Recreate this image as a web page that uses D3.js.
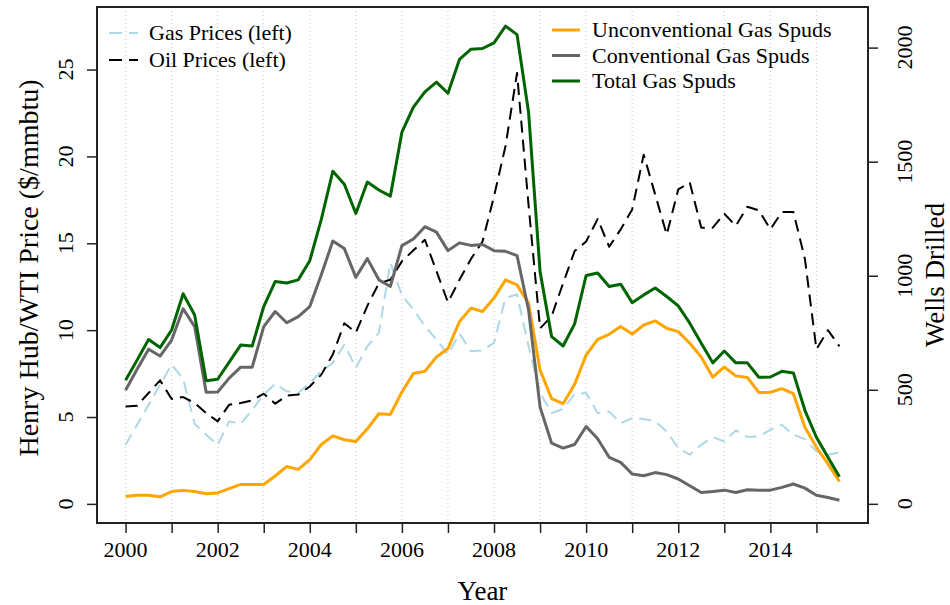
<!DOCTYPE html>
<html>
<head>
<meta charset="utf-8">
<script src="https://cdn.jsdelivr.net/npm/d3@7"></script>
<style>
  body { margin: 0; background: #fff; }
  svg { display: block; font-family: "Liberation Serif", "Times New Roman", serif; }
</style>
</head>
<body>
<svg id="chart" width="950" height="605"></svg>
<script>
// quarterly, 2000 Q1 .. 2015 Q3
var startYear = 2000,
    nQuarters = 63;

// Henry Hub gas price ($/mmbtu)
var gasPrices = [3.40, 4.56, 5.70, 6.86, 8.02, 7.20, 4.61, 3.98, 3.40, 4.75, 4.61, 5.42, 6.29,
    6.92, 6.48, 6.38, 6.96, 7.63, 8.11, 9.17, 7.83, 9.07, 9.84, 13.88, 12.00, 11.19, 10.22,
    9.46, 8.59, 9.80, 8.78, 8.84, 9.27, 11.86, 12.05, 9.07, 6.40, 5.23, 5.46, 6.33, 6.38,
    5.23, 5.32, 4.65, 4.94, 4.88, 4.75, 4.17, 3.21, 2.83, 3.40, 3.85, 3.59, 4.23, 3.85,
    3.88, 4.27, 4.56, 3.98, 3.73, 3.02, 2.83, 2.96];

// WTI oil price ($/mmbtu)
var oilPrices = [5.61, 5.65, 6.38, 7.11, 6.04, 6.15, 5.81, 5.23, 4.75, 5.71, 5.81, 5.96, 6.34,
    5.77, 6.23, 6.29, 6.76, 7.44, 8.60, 10.40, 9.86, 11.40, 12.70, 12.90, 13.96, 14.60, 15.20,
    13.40, 11.60, 12.90, 14.10, 15.10, 17.70, 20.60, 24.80, 17.20, 10.10, 10.80, 12.70, 14.55,
    15.10, 16.40, 14.80, 15.80, 16.95, 20.10, 17.80, 15.50, 18.10, 18.50, 15.90, 15.90, 16.70,
    16.00, 17.10, 16.90, 15.80, 16.80, 16.80, 14.10, 8.90, 10.00, 9.07];

// gas wells spudded per quarter
var unconventionalSpuds = [32, 38, 38, 31, 54, 59, 54, 44, 48, 67, 85, 85, 85, 122, 164, 151,
    194, 260, 298, 281, 273, 329, 395, 392, 490, 571, 581, 644, 681, 799, 858, 843, 902, 982,
    960, 880, 586, 461, 439, 524, 652, 721, 743, 777, 744, 784, 802, 770, 755, 704, 644, 555,
    600, 561, 554, 488, 489, 505, 483, 336, 248, 175, 98];

var conventionalSpuds = [498, 590, 678, 648, 718, 855, 777, 489, 490, 551, 599, 599, 777, 843,
    794, 821, 865, 1004, 1152, 1119, 993, 1075, 982, 953, 1132, 1161, 1215, 1191, 1110, 1144,
    1133, 1137, 1110, 1107, 1088, 850, 424, 266, 244, 260, 339, 285, 204, 182, 131, 123, 137,
    128, 109, 79, 50, 54, 60, 50, 62, 60, 60, 72, 87, 69, 38, 28, 16];

var totalSpuds = [542, 630, 720, 685, 762, 921, 828, 540, 546, 621, 696, 692, 865, 975, 968,
    982, 1066, 1247, 1458, 1401, 1273, 1411, 1376, 1349, 1629, 1739, 1806, 1849, 1800, 1948,
    1993, 1996, 2021, 2094, 2057, 1717, 1018, 733, 692, 789, 1001, 1012, 953, 963, 882, 916,
    946, 909, 868, 792, 704, 618, 670, 618, 618, 555, 556, 581, 574, 410, 292, 204, 119];

var yearTicks = d3.range(2000, 2016),
    yearLabels = [2000, 2002, 2004, 2006, 2008, 2010, 2012, 2014],
    priceTicks = [0, 5, 10, 15, 20, 25],
    wellTicks = [0, 500, 1000, 1500, 2000];

var quarters = d3.range(nQuarters).map(function (i) { return startYear + i / 4; });

// plot box (note: "top" is taken by window.top, so prefixed names)
var svg = d3.select("#chart"),
    boxLeft = 97, boxRight = 868, boxTop = 7, boxBottom = 523;

var x = d3.scaleLinear().domain([1999.38, 2016.12]).range([boxLeft, boxRight]),
    yPrice = d3.scaleLinear().domain([-1.1, 28.6]).range([boxBottom, boxTop]),
    yWells = d3.scaleLinear().domain([-84, 2178]).range([boxBottom, boxTop]);

// dotted year grid
svg.append("g")
    .selectAll("line")
    .data(yearTicks)
    .enter()
    .append("line")
    .attr("x1", function (d) { return x(d); })
    .attr("x2", function (d) { return x(d); })
    .attr("y1", boxTop)
    .attr("y2", boxBottom)
    .attr("stroke", "#c8c8c8")
    .attr("stroke-width", 1)
    .attr("stroke-dasharray", "1,3");

function drawSeries(values, scale, color, width, dash) {
    var line = d3.line()
        .x(function (d, i) { return x(quarters[i]); })
        .y(function (d) { return scale(d); });

    svg.append("path")
        .datum(values)
        .attr("d", line)
        .attr("fill", "none")
        .attr("stroke", color)
        .attr("stroke-width", width)
        .attr("stroke-linejoin", "round")
        .attr("stroke-dasharray", dash || null);
}

drawSeries(gasPrices, yPrice, "#add8e6", 2, "12,7");
drawSeries(oilPrices, yPrice, "#000000", 2, "12,7");
drawSeries(unconventionalSpuds, yWells, "#ffa500", 3);
drawSeries(conventionalSpuds, yWells, "#666666", 3);
drawSeries(totalSpuds, yWells, "#006400", 3);

// box
svg.append("rect")
    .attr("x", boxLeft)
    .attr("y", boxTop)
    .attr("width", boxRight - boxLeft)
    .attr("height", boxBottom - boxTop)
    .attr("fill", "none")
    .attr("stroke", "#222")
    .attr("stroke-width", 2);

// bottom axis
var xAxis = svg.append("g")
    .attr("transform", "translate(0," + boxBottom + ")")
    .call(d3.axisBottom(x).tickValues(yearTicks).tickSize(10).tickFormat(""));
xAxis.select(".domain").remove();
xAxis.selectAll("line").attr("stroke", "#222").attr("stroke-width", 1.5);

svg.append("g")
    .selectAll("text")
    .data(yearLabels)
    .enter()
    .append("text")
    .attr("x", function (d) { return x(d); })
    .attr("y", 557)
    .attr("text-anchor", "middle")
    .attr("font-size", 22)
    .text(function (d) { return d; });

// left axis
var yAxisLeft = svg.append("g")
    .attr("transform", "translate(" + boxLeft + ",0)")
    .call(d3.axisLeft(yPrice).tickValues(priceTicks).tickSize(10).tickFormat(""));
yAxisLeft.select(".domain").remove();
yAxisLeft.selectAll("line").attr("stroke", "#222").attr("stroke-width", 1.5);

svg.append("g")
    .selectAll("text")
    .data(priceTicks)
    .enter()
    .append("text")
    .attr("transform", function (d) { return "translate(73," + yPrice(d) + ") rotate(-90)"; })
    .attr("text-anchor", "middle")
    .attr("font-size", 22)
    .text(function (d) { return d; });

// right axis
var yAxisRight = svg.append("g")
    .attr("transform", "translate(" + boxRight + ",0)")
    .call(d3.axisRight(yWells).tickValues(wellTicks).tickSize(10).tickFormat(""));
yAxisRight.select(".domain").remove();
yAxisRight.selectAll("line").attr("stroke", "#222").attr("stroke-width", 1.5);

svg.append("g")
    .selectAll("text")
    .data(wellTicks)
    .enter()
    .append("text")
    .attr("transform", function (d) { return "translate(912," + yWells(d) + ") rotate(-90)"; })
    .attr("text-anchor", "middle")
    .attr("font-size", 22)
    .text(function (d) { return d; });

// axis titles
svg.append("text")
    .attr("x", (boxLeft + boxRight) / 2)
    .attr("y", 600)
    .attr("text-anchor", "middle")
    .attr("font-size", 27)
    .text("Year");

svg.append("text")
    .attr("transform", "translate(38," + ((boxTop + boxBottom) / 2 + 3) + ") rotate(-90)")
    .attr("text-anchor", "middle")
    .attr("font-size", 28)
    .text("Henry Hub/WTI Price ($/mmbtu)");

svg.append("text")
    .attr("transform", "translate(944," + ((boxTop + boxBottom) / 2 + 10) + ") rotate(-90)")
    .attr("text-anchor", "middle")
    .attr("font-size", 27)
    .text("Wells Drilled");

// legends
var priceLegend = [
        {label: "Gas Prices (left)", color: "#add8e6"},
        {label: "Oil Prices (left)", color: "#000000"}
    ],
    wellLegend = [
        {label: "Unconventional Gas Spuds", color: "#ffa500"},
        {label: "Conventional Gas Spuds", color: "#666666"},
        {label: "Total Gas Spuds", color: "#006400"}
    ];

priceLegend.forEach(function (item, i) {
    var cy = 33 + i * 27;
    svg.append("line")
        .attr("x1", 109).attr("x2", 138)
        .attr("y1", cy).attr("y2", cy)
        .attr("stroke", item.color)
        .attr("stroke-width", 2)
        .attr("stroke-dasharray", "13,7");
    svg.append("text")
        .attr("x", 149).attr("y", cy + 7)
        .attr("font-size", 22)
        .text(item.label);
});

wellLegend.forEach(function (item, i) {
    var cy = 30 + i * 25.5;
    svg.append("line")
        .attr("x1", 552).attr("x2", 580)
        .attr("y1", cy).attr("y2", cy)
        .attr("stroke", item.color)
        .attr("stroke-width", 3);
    svg.append("text")
        .attr("x", 592).attr("y", cy + 7)
        .attr("font-size", 22)
        .text(item.label);
});
</script>
</body>
</html>
